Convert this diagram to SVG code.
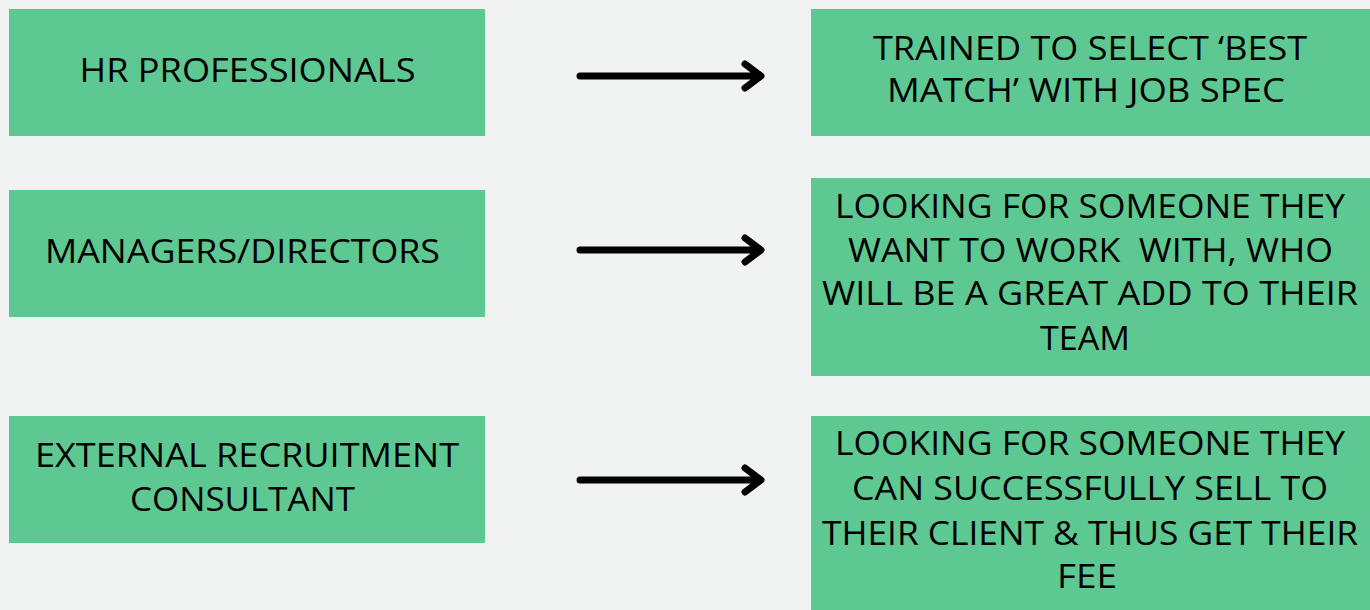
<svg xmlns="http://www.w3.org/2000/svg" width="1370" height="610" viewBox="0 0 1370 610">
<style>
.box{fill:#5DC891}
.t{font-family:"Open Sans","Liberation Sans",sans-serif;font-size:32px;fill:#000;text-anchor:middle}
.arr{stroke:#000;stroke-width:7;fill:none;stroke-linecap:round;stroke-linejoin:round}
</style>
<rect width="1370" height="610" fill="#F1F2F2"/>
<g id="hr"><rect class="box" x="9" y="9" width="476" height="127"/><text class="t" x="247.5" y="82" textLength="336" lengthAdjust="spacingAndGlyphs">HR PROFESSIONALS</text></g>
<g id="managers"><rect class="box" x="9" y="190" width="476" height="127"/><text class="t" x="242.5" y="263" textLength="395" lengthAdjust="spacingAndGlyphs">MANAGERS/DIRECTORS</text></g>
<g id="external"><rect class="box" x="9" y="416" width="476" height="127"/><text class="t" x="247" y="467" textLength="424" lengthAdjust="spacingAndGlyphs">EXTERNAL RECRUITMENT</text><text class="t" x="242.5" y="511" textLength="225" lengthAdjust="spacingAndGlyphs">CONSULTANT</text></g>
<g id="trained"><rect class="box" x="811" y="9" width="559" height="127"/><text class="t" x="1090" y="60" textLength="434" lengthAdjust="spacingAndGlyphs">TRAINED TO SELECT ‘BEST</text><text class="t" x="1086" y="102" textLength="398" lengthAdjust="spacingAndGlyphs">MATCH’ WITH JOB SPEC</text></g>
<g id="looking1"><rect class="box" x="811" y="178" width="559" height="198"/><text class="t" x="1090" y="218" textLength="510" lengthAdjust="spacingAndGlyphs">LOOKING FOR SOMEONE THEY</text><text class="t" x="1090.5" y="262" textLength="485" lengthAdjust="spacingAndGlyphs" xml:space="preserve">WANT TO WORK  WITH, WHO</text><text class="t" x="1090" y="305" textLength="536" lengthAdjust="spacingAndGlyphs">WILL BE A GREAT ADD TO THEIR</text><text class="t" x="1085" y="350" textLength="90" lengthAdjust="spacingAndGlyphs">TEAM</text></g>
<g id="looking2"><rect class="box" x="811" y="416" width="559" height="194"/><text class="t" x="1090" y="455" textLength="510" lengthAdjust="spacingAndGlyphs">LOOKING FOR SOMEONE THEY</text><text class="t" x="1090" y="500" textLength="476" lengthAdjust="spacingAndGlyphs">CAN SUCCESSFULLY SELL TO</text><text class="t" x="1090" y="545" textLength="536" lengthAdjust="spacingAndGlyphs">THEIR CLIENT &amp; THUS GET THEIR</text><text class="t" x="1087" y="588" textLength="60" lengthAdjust="spacingAndGlyphs">FEE</text></g>
<g id="connectors">
<path class="arr" d="M580 76H760M745 64L761 76L745 88"/>
<path class="arr" d="M580 250H760M745 238L761 250L745 262"/>
<path class="arr" d="M580 480H760M745 468L761 480L745 492"/>
</g>
</svg>
